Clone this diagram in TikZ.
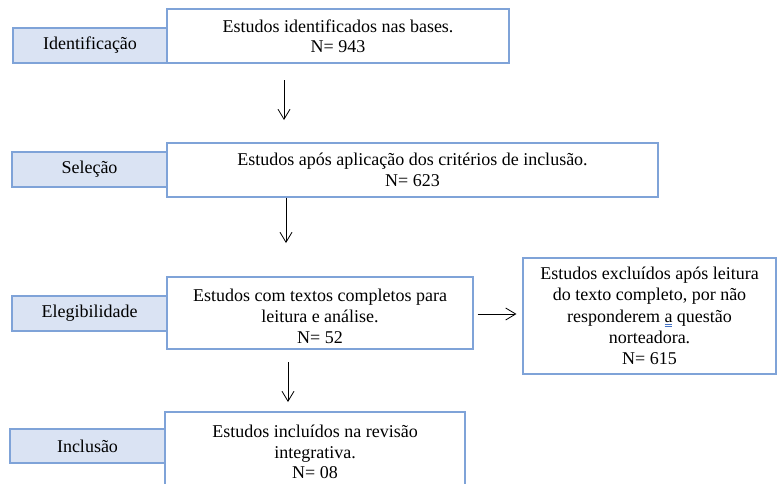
\documentclass[tikz,border=0pt]{standalone}
\usepackage{fontspec}
\setmainfont{Liberation Serif}
\usetikzlibrary{arrows.meta}
\definecolor{lblfill}{HTML}{DAE3F3}
\definecolor{bordblue}{HTML}{7FA3D8}
\definecolor{ulblue}{HTML}{4472C4}
\newcommand\myuul[1]{\setbox0\hbox{#1}\rlap{\color{ulblue}\rule[-2pt]{\wd0}{0.6pt}\hskip-\wd0\relax\rule[-4pt]{\wd0}{0.6pt}}\box0\relax}
\begin{document}
\begin{tikzpicture}[x=1pt,y=-1pt,
  lbl/.style={draw=bordblue, fill=lblfill, line width=1.1pt, inner sep=0pt,
    font=\fontsize{18}{20.5}\selectfont},
  box/.style={draw=bordblue, fill=white, line width=1.1pt, inner sep=0pt,
    align=center, font=\fontsize{18}{20.5}\selectfont},
  txt/.style={inner sep=0pt, align=center, font=\fontsize{18}{20.5}\selectfont},
  arr/.style={-{Straight Barb[length=10pt,width=12pt]}, line width=0.8pt}]
\useasboundingbox (0,0) rectangle (779,483);

% row 1
\node[lbl, minimum width=154pt, minimum height=35pt] (l1) at (90,45.5) {Identificação};
\node[box, minimum width=342pt, minimum height=54pt] (b1) at (338,36)
  {Estudos identificados nas bases.\\N= 943};

% row 2
\node[lbl, minimum width=155pt, minimum height=35pt] (l2) at (89.5,169.5) {Seleção};
\node[box, minimum width=491pt, minimum height=54pt] (b2) at (412.5,170)
  {Estudos após aplicação dos critérios de inclusão.\\N= 623};

% row 3
\node[lbl, minimum width=155pt, minimum height=35pt] (l3) at (89.5,313.5) {Elegibilidade};
\node[box, minimum width=306pt, minimum height=72pt] (b3) at (320,313) {};
\node[txt, font=\fontsize{18}{21}\selectfont] (b3t) at (320,316.5)
  {Estudos com textos completos para\\leitura e análise.\\N= 52};
\node[box, minimum width=253pt, minimum height=116pt, font=\fontsize{18}{21.3}\selectfont] (r3) at (649.5,316)
  {Estudos excluídos após leitura\\do texto completo, por não\\responderem \myuul{a} questão\\norteadora.\\N= 615};

% row 4
\node[lbl, minimum width=155pt, minimum height=34pt] (l4) at (87.5,446) {Inclusão};
\node[box, minimum width=300pt, minimum height=80pt] (b4) at (315,452)
  {Estudos incluídos na revisão\\integrativa.\\N= 08};

% arrows
\coordinate (a1s) at (284,80);
\coordinate (a1e) at (284,120);
\draw[arr] (a1s) -- (a1e);
\coordinate (a2e) at (286,243);
\draw[arr] (b2.south -| a2e) -- (a2e);
\coordinate (a3s) at (288,362);
\coordinate (a3e) at (288,402);
\draw[arr] (a3s) -- (a3e);
\draw[arr] ([xshift=4pt]b3.east |- 0,314) -- ([xshift=-6pt]r3.west |- 0,314);
\end{tikzpicture}
\end{document}
